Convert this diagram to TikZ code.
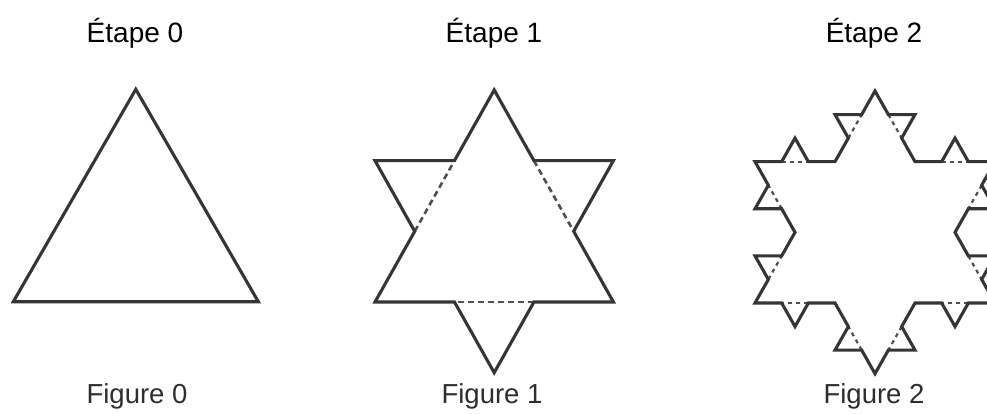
\documentclass[tikz,border=0pt]{standalone}
\usepackage{fontspec}
\setmainfont{Liberation Sans}
\definecolor{edge}{HTML}{353535}
\definecolor{dashc}{HTML}{505050}
\definecolor{figtxt}{HTML}{2E2E2E}
\tikzset{
  outline/.style={draw=edge, line width=3.1pt, line join=miter},
  hidden/.style={draw=dashc, line width=2.6pt, dash pattern=on 6pt off 4pt},
  smallhidden/.style={draw=dashc, line width=2.2pt, dash pattern=on 4pt off 4pt},
  steptitle/.style={anchor=base, font=\fontsize{28}{32}\selectfont, text=black, inner sep=0pt},
  figlabel/.style={anchor=base, font=\fontsize{27.5}{31}\selectfont, text=figtxt, inner sep=0pt}
}
\begin{document}
\begin{tikzpicture}[x=1pt,y=-1pt]
\path[use as bounding box] (0,0) rectangle (987,414);
\clip (0,0) rectangle (987,414);
\fill[white] (0,0) rectangle (987,414);

% titles
\node[steptitle] (t0) at (135,43) {Étape 0};
\node[steptitle] (t1) at (494,43) {Étape 1};
\node[steptitle] (t2) at (874,43) {Étape 2};

% captions
\node[figlabel] (f0) at (137,403) {Figure 0};
\node[figlabel] (f1) at (492,403) {Figure 1};
\node[figlabel] (f2) at (874,403) {Figure 2};

% Figure 0 : triangle (lattice side 9)
\begin{scope}[shift={(13.3,301.7)}]
\begin{scope}[x={(27.222pt,0pt)}, y={(13.611pt,23.6pt)}]
\draw[outline] (0,0) -- (0,9) -- (9,0) -- cycle;
\end{scope}
\end{scope}

% Figure 1 : first iteration
\begin{scope}[shift={(375,302)}]
\begin{scope}[x={(26.489pt,0pt)}, y={(13.244pt,23.556pt)}]
\draw[hidden] (0,3) -- (0,6);
\draw[hidden] (3,6) -- (6,3);
\draw[hidden] (6,0) -- (3,0);
\draw[outline] (0,0) -- (0,3) -- (-3,6) -- (0,6) -- (0,9) -- (3,6) -- (6,6)
  -- (6,3) -- (9,0) -- (6,0) -- (6,-3) -- (3,0) -- cycle;
\end{scope}
\end{scope}

% Figure 2 : second iteration
\begin{scope}[shift={(755,303)}]
\begin{scope}[x={(26.667pt,0pt)}, y={(13.333pt,23.556pt)}]
\draw[smallhidden] (0,1) -- (0,2);
\draw[smallhidden] (-1,4) -- (-2,5);
\draw[smallhidden] (-2,6) -- (-1,6);
\draw[smallhidden] (0,7) -- (0,8);
\draw[smallhidden] (1,8) -- (2,7);
\draw[smallhidden] (4,6) -- (5,6);
\draw[smallhidden] (6,5) -- (6,4);
\draw[smallhidden] (7,2) -- (8,1);
\draw[smallhidden] (8,0) -- (7,0);
\draw[smallhidden] (6,-1) -- (6,-2);
\draw[smallhidden] (5,-2) -- (4,-1);
\draw[smallhidden] (2,0) -- (1,0);
\draw[outline]
  (0,0) -- (0,1) -- (-1,2) -- (0,2) -- (0,3)
  -- (-1,4) -- (-2,4) -- (-2,5) -- (-3,6)
  -- (-2,6) -- (-2,7) -- (-1,6) -- (0,6)
  -- (0,7) -- (-1,8) -- (0,8) -- (0,9)
  -- (1,8) -- (2,8) -- (2,7) -- (3,6)
  -- (4,6) -- (4,7) -- (5,6) -- (6,6)
  -- (6,5) -- (7,4) -- (6,4) -- (6,3)
  -- (7,2) -- (8,2) -- (8,1) -- (9,0)
  -- (8,0) -- (8,-1) -- (7,0) -- (6,0)
  -- (6,-1) -- (7,-2) -- (6,-2) -- (6,-3)
  -- (5,-2) -- (4,-2) -- (4,-1) -- (3,0)
  -- (2,0) -- (2,-1) -- (1,0) -- cycle;
\end{scope}
\end{scope}
\end{tikzpicture}
\end{document}
